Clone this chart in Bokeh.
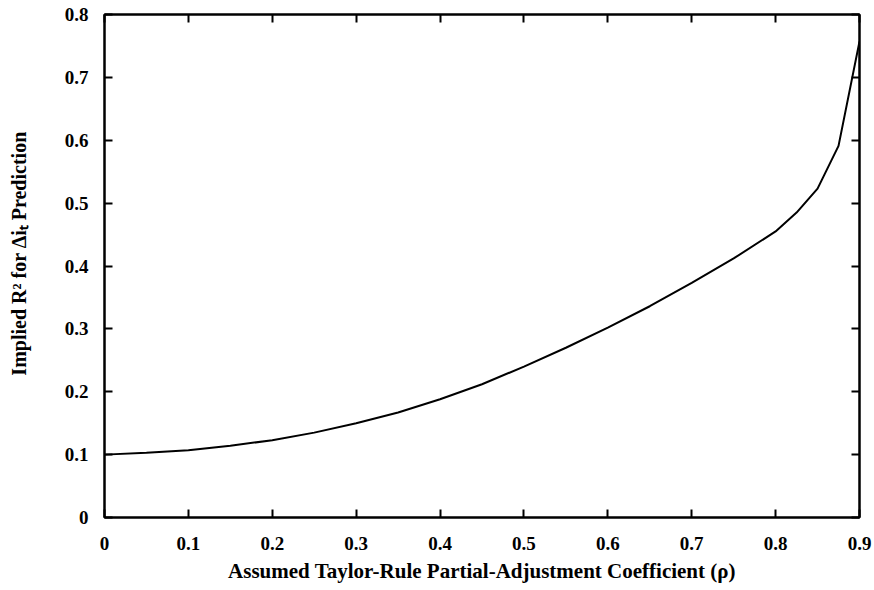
from bokeh.plotting import figure
from bokeh.models import Range1d, LinearAxis, FixedTicker, CustomJSTickFormatter
from bokeh.embed import file_html
from bokeh.resources import INLINE

# Data
rho = [0.0, 0.05, 0.10, 0.15, 0.20, 0.25, 0.30, 0.35, 0.40, 0.45, 0.50,
       0.55, 0.60, 0.65, 0.70, 0.75, 0.80, 0.825, 0.85, 0.875, 0.90]
r2 = [0.100, 0.103, 0.107, 0.114, 0.123, 0.135, 0.150, 0.167, 0.188, 0.212, 0.240,
      0.270, 0.302, 0.336, 0.373, 0.412, 0.455, 0.485, 0.523, 0.591, 0.757]

x_ticks = [0.0, 0.1, 0.2, 0.3, 0.4, 0.5, 0.6, 0.7, 0.8, 0.9]
x_tick_labels = ["0", "0.1", "0.2", "0.3", "0.4", "0.5", "0.6", "0.7", "0.8", "0.9"]
y_ticks = [0.0, 0.1, 0.2, 0.3, 0.4, 0.5, 0.6, 0.7, 0.8]
y_tick_labels = ["0", "0.1", "0.2", "0.3", "0.4", "0.5", "0.6", "0.7", "0.8"]

x_label = "Assumed Taylor-Rule Partial-Adjustment Coefficient (\u03c1)"
y_label = "Implied R\u00b2 for \u0394i\u209c Prediction"

FONT = "Liberation Serif"

p = figure(width=874, height=590, output_backend="svg", toolbar_location=None,
           x_range=Range1d(0, 0.9), y_range=Range1d(0, 0.8),
           min_border_left=104, min_border_right=15, min_border_top=14,
           min_border_bottom=73, x_axis_location="below", y_axis_location="left")
p.background_fill_color = "white"
p.border_fill_color = "white"
p.outline_line_color = "black"
p.outline_line_width = 2
p.grid.visible = False

p.line(rho, r2, line_color="black", line_width=2)


def style(ax, ticks, labels, show_labels):
    ax.ticker = FixedTicker(ticks=ticks)
    ax.minor_tick_line_color = None
    ax.major_tick_in = 8
    ax.major_tick_out = 0
    ax.major_tick_line_width = 2
    ax.major_tick_line_color = "black"
    ax.axis_line_width = 2
    ax.axis_line_color = "black"
    ax.major_label_text_font = FONT
    ax.major_label_text_font_style = "bold"
    ax.major_label_text_color = "black"
    ax.major_label_text_font_size = "19px"
    if show_labels:
        ax.major_label_overrides = {t: l for t, l in zip(ticks, labels)}
    else:
        ax.formatter = CustomJSTickFormatter(code="return '';")
        ax.major_label_standoff = 0


xa = p.xaxis[0]
style(xa, x_ticks, x_tick_labels, True)
xa.major_label_standoff = 19
xa.axis_label = x_label
xa.axis_label_text_font = FONT
xa.axis_label_text_font_style = "bold"
xa.axis_label_text_font_size = "21px"
xa.axis_label_text_color = "black"
xa.axis_label_standoff = 6

ya = p.yaxis[0]
style(ya, y_ticks, y_tick_labels, True)
ya.major_label_standoff = 16
# leading no-break spaces nudge the centred label slightly upward, as in the reference
ya.axis_label = "\u00a0" * 5 + y_label
ya.axis_label_text_font = FONT
ya.axis_label_text_font_style = "bold"
ya.axis_label_text_font_size = "20px"
ya.axis_label_text_color = "black"
ya.axis_label_standoff = 32

top = LinearAxis()
style(top, x_ticks, x_tick_labels, False)
p.add_layout(top, "above")

right = LinearAxis()
style(right, y_ticks, y_tick_labels, False)
p.add_layout(right, "right")

open("out.html", "w").write(file_html(p, INLINE))
